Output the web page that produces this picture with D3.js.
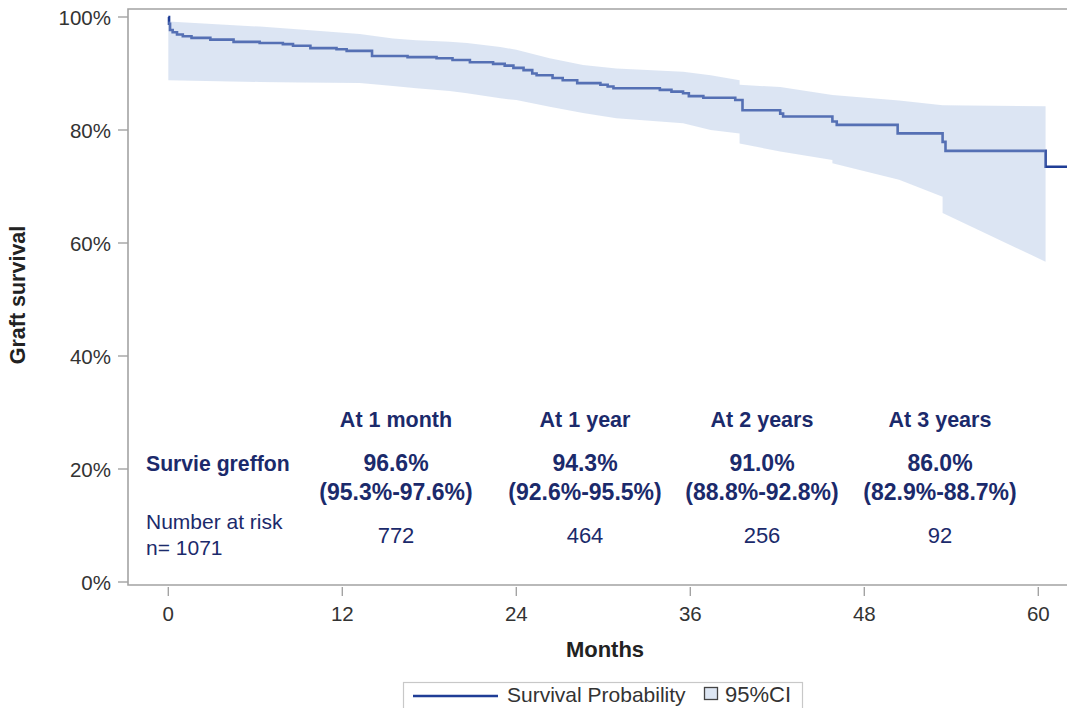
<!DOCTYPE html>
<html>
<head>
<meta charset="utf-8">
<script src="https://cdn.jsdelivr.net/npm/d3@7/dist/d3.min.js"></script>
<style>
  html, body { margin: 0; padding: 0; background: #fff; }
  svg { display: block; font-family: "Liberation Sans", Arial, sans-serif; }
</style>
</head>
<body>
<svg id="chart" width="1067" height="708"></svg>
<script>
// Kaplan–Meier graft survival (months, % surviving)
const kmMonths = [0, 0.05, 0.12, 0.3, 0.6, 1.0, 1.6, 2.9, 4.5, 6.3, 7.9, 8.6, 9.8, 11.6, 12.3,
  14.05, 16.5, 18.5, 19.6, 20.8, 22.4, 23.2, 23.8, 24.5, 25.1, 25.4, 26.5, 27.2, 28.2, 29.8,
  30.3, 30.7, 33.9, 34.7, 35.5, 35.9, 36.9, 39.1, 39.6, 42.2, 42.4, 45.8, 46.1, 50.3, 53.4,
  53.6, 60.5, 62.5];
const kmSurvival = [100, 98.8, 97.7, 97.3, 96.9, 96.6, 96.3, 96.0, 95.6, 95.4, 95.2, 94.9, 94.5, 94.3, 94.0,
  93.1, 92.9, 92.7, 92.4, 92.0, 91.7, 91.4, 91.0, 90.6, 90.0, 89.7, 89.2, 88.8, 88.3, 88.0,
  87.7, 87.4, 87.1, 86.8, 86.5, 86.0, 85.7, 85.3, 83.5, 82.9, 82.4, 81.5, 80.9, 79.4, 77.9,
  76.3, 73.5, 73.5];

// 95% confidence band
const ciMonths = [0, 6.3, 9.1, 13.2, 15.5, 17.1, 19.4, 20.6, 22.9, 24.0, 26.3, 28.6, 30.9, 35.5,
  37.4, 39.4, 39.4, 42.2, 45.8, 45.8, 50.4, 53.4, 53.4, 60.5];
const ciUpper = [99.2, 98.3, 97.8, 97.0, 96.2, 95.9, 95.6, 95.4, 94.7, 94.2, 92.7, 91.5, 90.9, 90.3,
  89.7, 88.8, 88.0, 87.6, 86.2, 86.2, 85.2, 84.4, 84.4, 84.2];
const ciLower = [88.8, 88.5, 88.4, 88.3, 87.8, 87.4, 86.9, 86.5, 85.6, 85.3, 84.1, 83.0, 82.1, 81.2,
  80.0, 79.4, 77.6, 76.2, 74.7, 74.1, 71.2, 68.2, 65.3, 56.7];

// Axis ticks
const xTicks = [0, 12, 24, 36, 48, 60];
const yTicks = [0, 20, 40, 60, 80, 100];

// Summary table
const tableMonths = [1, 12, 24, 36];
const tableHeaders = ["At 1 month", "At 1 year", "At 2 years", "At 3 years"];
const tableSurvival = ["96.6%", "94.3%", "91.0%", "86.0%"];
const tableCI = ["(95.3%-97.6%)", "(92.6%-95.5%)", "(88.8%-92.8%)", "(82.9%-88.7%)"];
const tableAtRisk = ["772", "464", "256", "92"];
const tableColumnX = [396, 585, 762, 940];

const svg = d3.select("#chart");
const navy = "#1b2a6b";
const lineColor = "#1f3d96";
const frameColor = "#a3a3a3";

const x = d3.scaleLinear().domain([-2.78, 62.2]).range([128, 1070.2]);
const y = d3.scaleLinear().domain([0, 100]).range([582, 17]);
const frameTop = 9, frameBottom = 585, frameLeft = 128, frameRight = 1067;

// Survival step line (drawn first; the translucent band lies over it)
const kmData = kmMonths.map((m, i) => [m, kmSurvival[i]]);
svg.append("path")
  .datum(kmData)
  .attr("fill", "none")
  .attr("stroke", lineColor)
  .attr("stroke-width", 2.6)
  .attr("d", d3.line().x(d => x(d[0])).y(d => y(d[1])).curve(d3.curveStepAfter));

const ciData = ciMonths.map((m, i) => ({ m, lo: ciLower[i], hi: ciUpper[i] }));
svg.append("path")
  .datum(ciData)
  .attr("fill", "rgb(168,190,224)")
  .attr("fill-opacity", 0.4)
  .attr("d", d3.area().x(d => x(d.m)).y0(d => y(d.lo)).y1(d => y(d.hi)));

// Frame
svg.append("path")
  .attr("fill", "none")
  .attr("stroke", frameColor)
  .attr("stroke-width", 1.6)
  .attr("d", `M${frameRight},${frameTop}H${frameLeft}V${frameBottom}H${frameRight}`);

// Y axis ticks and labels
const yAxis = svg.append("g");
yTicks.forEach(t => {
  yAxis.append("line")
    .attr("x1", 118).attr("x2", frameLeft)
    .attr("y1", y(t)).attr("y2", y(t))
    .attr("stroke", frameColor).attr("stroke-width", 1.4);
  yAxis.append("text")
    .attr("x", 111).attr("y", y(t) + 7.5)
    .attr("text-anchor", "end")
    .attr("font-size", 20.5)
    .attr("fill", "#333")
    .text(d3.format(".0%")(t / 100));
});

// X axis ticks and labels
const xAxis = svg.append("g");
xTicks.forEach(t => {
  xAxis.append("line")
    .attr("x1", x(t)).attr("x2", x(t))
    .attr("y1", 587).attr("y2", 596)
    .attr("stroke", frameColor).attr("stroke-width", 1.4);
  xAxis.append("text")
    .attr("x", x(t)).attr("y", 620.5)
    .attr("text-anchor", "middle")
    .attr("font-size", 20.5)
    .attr("fill", "#333")
    .text(t);
});

// Axis titles
svg.append("text")
  .attr("x", 605).attr("y", 657)
  .attr("text-anchor", "middle")
  .attr("font-size", 22).attr("font-weight", "bold")
  .attr("fill", "#222")
  .text("Months");
svg.append("text")
  .attr("transform", "translate(25,295) rotate(-90)")
  .attr("text-anchor", "middle")
  .attr("font-size", 21.5).attr("font-weight", "bold")
  .attr("fill", "#222")
  .text("Graft survival");

// Summary table inside the plot
const table = svg.append("g").attr("fill", navy);
table.append("text").attr("x", 146).attr("y", 471)
  .attr("font-size", 21.2).attr("font-weight", "bold").text("Survie greffon");
table.append("text").attr("x", 146).attr("y", 529)
  .attr("font-size", 21).text("Number at risk");
table.append("text").attr("x", 146).attr("y", 555)
  .attr("font-size", 21).text("n= 1071");

tableMonths.forEach((m, i) => {
  const cx = tableColumnX[i];
  table.append("text").attr("x", cx).attr("y", 427)
    .attr("text-anchor", "middle").attr("font-size", 21.5).attr("font-weight", "bold")
    .text(tableHeaders[i]);
  table.append("text").attr("x", cx).attr("y", 471)
    .attr("text-anchor", "middle").attr("font-size", 23).attr("font-weight", "bold")
    .text(tableSurvival[i]);
  table.append("text").attr("x", cx).attr("y", 500)
    .attr("text-anchor", "middle").attr("font-size", 23).attr("font-weight", "bold")
    .text(tableCI[i]);
  table.append("text").attr("x", cx).attr("y", 543)
    .attr("text-anchor", "middle").attr("font-size", 22)
    .text(tableAtRisk[i]);
});

// Legend
const legend = svg.append("g");
legend.append("rect")
  .attr("x", 403.5).attr("y", 682.5).attr("width", 399).attr("height", 32)
  .attr("fill", "#fff").attr("stroke", "#c8c8c8").attr("stroke-width", 1.2);
legend.append("line")
  .attr("x1", 413).attr("x2", 498).attr("y1", 696).attr("y2", 696)
  .attr("stroke", lineColor).attr("stroke-width", 2.6);
legend.append("text")
  .attr("x", 507).attr("y", 702)
  .attr("font-size", 21).attr("fill", "#333")
  .text("Survival Probability");
legend.append("rect")
  .attr("x", 704.5).attr("y", 687.5).attr("width", 13).attr("height", 12)
  .attr("fill", "rgb(221,230,243)").attr("stroke", "#444").attr("stroke-width", 1.3);
legend.append("text")
  .attr("x", 725).attr("y", 702)
  .attr("font-size", 22).attr("fill", "#333")
  .text("95%CI");
</script>
</body>
</html>
